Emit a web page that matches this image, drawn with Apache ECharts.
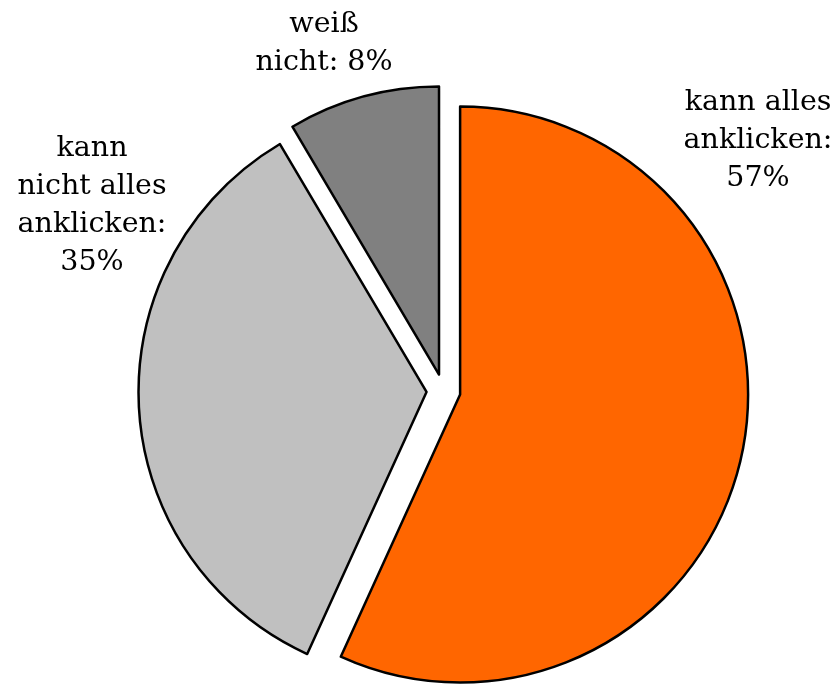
<!DOCTYPE html>
<html>
<head>
<meta charset="utf-8">
<script src="https://cdn.jsdelivr.net/npm/echarts@6/dist/echarts.min.js"></script>
<style>html,body{margin:0;padding:0;background:#fff}#c{width:839px;height:684px}</style>
</head>
<body>
<div id="c"></div>
<script>
const categories = ['kann alles anklicken', 'kann nicht alles anklicken', 'weiß nicht'];
const labelTexts = ['kann alles\nanklicken:\n57%', 'kann\nnicht alles\nanklicken:\n35%', 'weiß\nnicht: 8%'];
// slice sizes (labels show the rounded figures)
const values = [56.8, 34.7, 8.5];
const colors = ['#FF6600', '#C0C0C0', '#808080'];
const labelPos = [[758, 141], [92, 206], [324, 44]];

const chart = echarts.init(document.getElementById('c'), null, {renderer: 'canvas'});
chart.setOption({
  animation: false,
  graphic: labelTexts.map((t, i) => ({
    type: 'text',
    x: labelPos[i][0],
    y: labelPos[i][1],
    style: {
      text: t,
      fontFamily: 'DejaVu Serif',
      fontSize: 28.5,
      lineHeight: 38,
      fill: '#000',
      align: 'center',
      verticalAlign: 'middle'
    }
  })),
  series: [{
    type: 'pie',
    center: [443.5, 391],
    radius: 288,
    startAngle: 90,
    clockwise: true,
    selectedMode: 'multiple',
    selectedOffset: 17,
    data: categories.map((c, i) => ({
      name: c,
      value: values[i],
      selected: true,
      itemStyle: {color: colors[i]},
      select: {itemStyle: {color: colors[i], borderColor: '#000', borderWidth: 2.5}}
    })),
    itemStyle: {borderColor: '#000', borderWidth: 2.5},
    emphasis: {scale: false, disabled: true},
    label: {show: false},
    labelLine: {show: false}
  }]
});
</script>
</body>
</html>
